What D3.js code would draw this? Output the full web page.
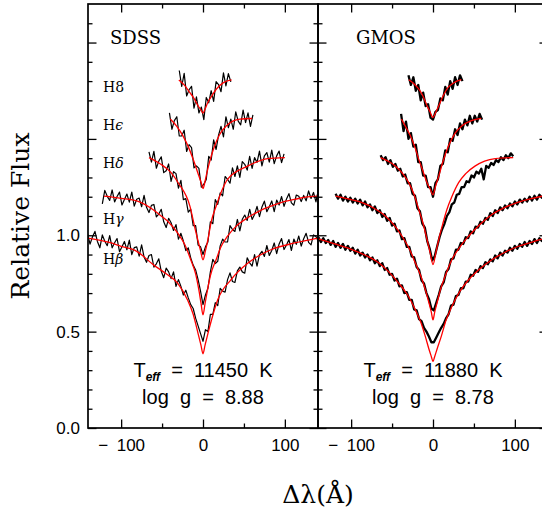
<!DOCTYPE html>
<html>
<head>
<meta charset="utf-8">
<script src="https://cdn.jsdelivr.net/npm/d3@7"></script>
<style>
  body { margin: 0; background: #fff; }
  svg { display: block; }
</style>
</head>
<body>
<svg></svg>
<script>
// panels, labels, fit parameters
const panels = ['SDSS', 'GMOS']
const teffValues = ['11450', '11880']
const loggValues = ['8.88', '8.78']
const lineNames = [['H', '8'], ['H', 'ϵ'], ['H', 'δ'], ['H', 'γ'], ['H', 'β']]
const xTicks = [-100, 0, 100]
const xMinorTicks = [-50, 50]
const yTickLabels = [0, 0.5, 1.0]
const yMajorTicks = [0, 0.5, 1.0, 1.5, 2.0]

// observed spectra, flux on a 3 A grid starting at obsStart (order H8, He, Hd, Hg, Hb)
const obsStep = 3
const sdssObsStart = [-29, -41, -66, -123, -141]
const gmosObsStart = [-30, -39, -64, -119, -140]

const sdssObsH8 = [1.855, 1.773, 1.84, 1.723, 1.755, 1.773, 1.66, 1.718, 1.635, 1.665, 1.60, 1.715, 1.687, 1.75, 1.695, 1.797, 1.782, 1.745, 1.843, 1.775, 1.839, 1.796]
const sdssObsHe = [1.635, 1.55, 1.595, 1.615, 1.515, 1.515, 1.545, 1.435, 1.47, 1.455, 1.35, 1.36, 1.347, 1.25,
  1.265, 1.29, 1.41, 1.39, 1.495, 1.445, 1.52, 1.565, 1.51, 1.615, 1.558, 1.603, 1.55, 1.64, 1.592, 1.573, 1.65, 1.585, 1.635, 1.565, 1.625]
const sdssObsHd = [1.433, 1.38, 1.435, 1.348, 1.385, 1.407, 1.325, 1.335, 1.37, 1.28, 1.33, 1.32, 1.245, 1.285, 1.185, 1.19, 1.12, 1.135, 1.05, 1.05, 0.95, 0.94, 0.90,
  0.94, 0.965, 1.07, 1.06, 1.185, 1.16, 1.22, 1.205, 1.305, 1.29, 1.27, 1.35, 1.305, 1.36, 1.30, 1.382, 1.368, 1.338, 1.41, 1.347, 1.403, 1.378, 1.437, 1.36, 1.412, 1.429, 1.38, 1.442, 1.372, 1.412, 1.437, 1.377, 1.422]
const sdssObsHg = [1.163, 1.233, 1.202, 1.181, 1.235, 1.173, 1.201, 1.224, 1.157, 1.186, 1.214, 1.172, 1.224, 1.151, 1.187, 1.193, 1.148, 1.207, 1.145, 1.118, 1.155, 1.16, 1.095, 1.11, 1.135, 1.07, 1.04, 1.088, 1.065, 1.025, 1.055, 0.98, 1.01, 0.97, 0.92, 0.935, 0.883, 0.845, 0.82, 0.77, 0.71, 0.64,
  0.69, 0.725, 0.81, 0.875, 0.853, 0.865, 0.945, 0.98, 0.965, 0.965, 1.05, 1.03, 1.02, 1.082, 1.023, 1.083, 1.105, 1.077, 1.135, 1.082, 1.108, 1.15, 1.097, 1.147, 1.177, 1.122, 1.148, 1.178, 1.123, 1.183, 1.157, 1.201, 1.15, 1.188, 1.216, 1.168, 1.156, 1.209, 1.202, 1.175, 1.207, 1.179, 1.23, 1.191, 1.222, 1.173, 1.238]
const sdssObsHb = [1.006, 0.954, 0.992, 1.02, 0.968, 0.935, 1.002, 0.969, 0.946, 0.998, 0.935, 0.961, 0.983, 0.915, 0.941, 0.968, 0.925, 0.975, 0.90, 0.936, 0.94, 0.892, 0.95, 0.887, 0.86, 0.895, 0.90, 0.835, 0.852, 0.878, 0.813, 0.78, 0.83, 0.81, 0.775, 0.81, 0.735, 0.77, 0.735, 0.69, 0.715, 0.675, 0.64, 0.62, 0.57, 0.53, 0.49, 0.45,
  0.51, 0.50, 0.59, 0.59, 0.65, 0.635, 0.725, 0.71, 0.705, 0.77, 0.805, 0.76, 0.755, 0.815, 0.835, 0.81, 0.803, 0.883, 0.857, 0.84, 0.90, 0.84, 0.90, 0.917, 0.89, 0.947, 0.895, 0.921, 0.96, 0.905, 0.955, 0.983, 0.926, 0.95, 0.978, 0.921, 0.98, 0.953, 0.996, 0.944, 0.982, 1.01, 0.963, 0.95, 1.002, 0.994, 0.966]

const gmosObsH8 = [1.83, 1.78, 1.82, 1.75, 1.78, 1.70, 1.74, 1.67, 1.68, 1.61, 1.60, 1.64, 1.65, 1.71, 1.70, 1.77, 1.73, 1.80, 1.76, 1.82, 1.78, 1.83, 1.80]
const gmosObsHe = [1.63, 1.54, 1.59, 1.50, 1.53, 1.46, 1.47, 1.38, 1.38, 1.31, 1.31, 1.25, 1.25, 1.20, 1.27, 1.29, 1.36, 1.37, 1.44, 1.43, 1.50, 1.49, 1.55, 1.52, 1.58, 1.55, 1.60, 1.57, 1.62, 1.58, 1.62, 1.59, 1.63, 1.60]
const gmosObsHd = [1.415, 1.39, 1.405, 1.37, 1.39, 1.355, 1.37, 1.335, 1.345, 1.305, 1.315, 1.27, 1.27, 1.215, 1.205, 1.14, 1.125, 1.06, 1.04, 0.97, 0.93, 0.87,
  0.89, 0.94, 0.99, 1.03, 1.06, 1.10, 1.12, 1.16, 1.17, 1.21, 1.215, 1.25, 1.25, 1.28, 1.275, 1.31, 1.30, 1.33, 1.32, 1.345, 1.29, 1.36, 1.35, 1.375, 1.365, 1.39, 1.38, 1.405, 1.39, 1.415, 1.40, 1.425, 1.41]
const gmosObsHg = [1.215, 1.19, 1.21, 1.18, 1.20, 1.175, 1.195, 1.17, 1.19, 1.165, 1.185, 1.155, 1.175, 1.145, 1.16, 1.13, 1.15, 1.115, 1.13, 1.095, 1.11, 1.075, 1.09, 1.05, 1.06, 1.02, 1.025, 0.98, 0.985, 0.94, 0.94, 0.89, 0.885, 0.835, 0.82, 0.765, 0.75, 0.70, 0.67, 0.62,
  0.61, 0.65, 0.69, 0.735, 0.755, 0.81, 0.825, 0.875, 0.88, 0.925, 0.925, 0.96, 0.955, 0.99, 0.985, 1.02, 1.01, 1.045, 1.04, 1.07, 1.06, 1.09, 1.08, 1.115, 1.10, 1.13, 1.115, 1.145, 1.13, 1.155, 1.14, 1.165, 1.15, 1.175, 1.16, 1.185, 1.17, 1.19, 1.175, 1.20, 1.18, 1.205, 1.185, 1.21, 1.195, 1.215, 1.20]
const gmosObsHb = [0.99, 0.965, 0.985, 0.96, 0.975, 0.95, 0.97, 0.94, 0.96, 0.935, 0.955, 0.925, 0.945, 0.92, 0.935, 0.905, 0.925, 0.895, 0.91, 0.885, 0.90, 0.87, 0.885, 0.855, 0.87, 0.84, 0.855, 0.82, 0.83, 0.795, 0.80, 0.765, 0.775, 0.735, 0.74, 0.70, 0.705, 0.665, 0.665, 0.615, 0.61, 0.565, 0.555, 0.52, 0.50, 0.475, 0.445,
  0.445, 0.47, 0.495, 0.52, 0.54, 0.57, 0.59, 0.635, 0.64, 0.685, 0.69, 0.725, 0.725, 0.76, 0.76, 0.795, 0.79, 0.82, 0.81, 0.84, 0.83, 0.86, 0.85, 0.875, 0.865, 0.895, 0.88, 0.91, 0.895, 0.92, 0.91, 0.935, 0.92, 0.945, 0.93, 0.955, 0.94, 0.965, 0.945, 0.97, 0.955, 0.98, 0.96, 0.985, 0.97, 0.99, 0.975]

// model fits, [delta lambda, flux]
const sdssModelH8 = [[-29.5, 1.806], [-23, 1.78], [-16.3, 1.742], [-11, 1.71], [-6, 1.672], [-2.5, 1.65], [0, 1.634], [2.5, 1.655], [6, 1.69], [11, 1.725], [16.4, 1.759], [25, 1.792], [35, 1.806]]
const sdssModelHe = [[-40, 1.603], [-32, 1.565], [-24.5, 1.516], [-18, 1.46], [-12, 1.394], [-5, 1.307], [-2, 1.27], [0, 1.242], [2, 1.27], [4.5, 1.32], [10, 1.41], [14.3, 1.464], [20, 1.52], [28.6, 1.568], [45, 1.603], [60, 1.606]]
const sdssModelHd = [[-66, 1.403], [-52, 1.37], [-39, 1.325], [-30, 1.27], [-16, 1.151], [-10, 1.04], [-6.5, 0.978], [-3, 0.92], [0, 0.873], [3, 0.92], [6, 0.978], [10, 1.07], [16, 1.151], [30, 1.29], [55, 1.36], [79, 1.398], [100, 1.403]]
const sdssModelHg = [[-121, 1.203], [-100, 1.192], [-80, 1.177], [-60, 1.13], [-51, 1.10], [-42, 1.068], [-31, 1.012], [-22, 0.95], [-15, 0.873], [-9, 0.80], [-5, 0.715], [-2.5, 0.65], [0, 0.587], [2.5, 0.645], [5, 0.705], [9, 0.79], [16, 0.873], [22, 0.94], [30, 0.995], [40, 1.045], [55, 1.092], [70, 1.128], [83, 1.151], [100, 1.176], [112, 1.186], [125, 1.198], [140, 1.203]]
const sdssModelHb = [[-141, 0.986], [-112, 0.96], [-100, 0.943], [-83, 0.922], [-60, 0.845], [-45, 0.80], [-31, 0.752], [-19, 0.665], [-12, 0.59], [-6, 0.49], [-2.5, 0.43], [0, 0.385], [2.5, 0.43], [6, 0.49], [12, 0.585], [18, 0.665], [34, 0.769], [55, 0.856], [83, 0.925], [112, 0.96], [141, 0.986]]

const gmosModelH8 = [[-29.6, 1.807], [-23, 1.785], [-17.4, 1.759], [-12, 1.72], [-7.3, 1.672], [-3.5, 1.64], [0, 1.611], [3.5, 1.64], [7, 1.672], [12, 1.72], [17, 1.759], [25, 1.79], [34.6, 1.807]]
const gmosModelHe = [[-38.6, 1.603], [-33, 1.56], [-27.6, 1.516], [-22, 1.455], [-17.4, 1.394], [-12, 1.33], [-7.3, 1.273], [-3.5, 1.24], [0, 1.21], [3.5, 1.26], [7, 1.307], [12, 1.38], [19, 1.464], [27, 1.53], [35.4, 1.568], [47, 1.595], [59, 1.606]]
const gmosModelHd = [[-64, 1.403], [-55, 1.385], [-46, 1.36], [-37, 1.32], [-29.6, 1.273], [-23, 1.21], [-17.4, 1.134], [-12, 1.06], [-7.3, 0.978], [-3.5, 0.91], [0, 0.848], [3.5, 0.91], [7, 0.978], [12, 1.06], [17, 1.134], [23, 1.2], [31.3, 1.273], [40, 1.32], [51.7, 1.36], [63, 1.385], [76, 1.398], [98, 1.403]]
const gmosModelHg = [[-119, 1.203], [-100, 1.185], [-86.6, 1.169], [-72, 1.14], [-58, 1.099], [-47, 1.05], [-37.8, 0.995], [-29, 0.93], [-21.5, 0.856], [-15, 0.79], [-9.3, 0.717], [-5, 0.65], [-2, 0.60], [0, 0.561], [2, 0.60], [5, 0.65], [9, 0.717], [15, 0.79], [23, 0.873], [33, 0.94], [43.5, 0.995], [57, 1.055], [72, 1.108], [88, 1.145], [104.5, 1.172], [120, 1.19], [134, 1.203], [150, 1.21]]
const gmosModelHb = [[-140, 0.981], [-120, 0.955], [-99, 0.926], [-82, 0.895], [-66, 0.856], [-54, 0.81], [-42, 0.752], [-31, 0.69], [-21.5, 0.613], [-15, 0.55], [-9.3, 0.474], [-5, 0.41], [-2, 0.37], [0, 0.344], [2, 0.37], [5, 0.41], [10, 0.474], [16, 0.56], [23, 0.63], [33, 0.71], [43.5, 0.769], [57, 0.825], [72, 0.873], [88, 0.912], [104.5, 0.943], [120, 0.963], [134, 0.981], [150, 0.99]]

const observed = [
  [sdssObsH8, sdssObsHe, sdssObsHd, sdssObsHg, sdssObsHb],
  [gmosObsH8, gmosObsHe, gmosObsHd, gmosObsHg, gmosObsHb]
]
const obsStart = [sdssObsStart, gmosObsStart]
const models = [
  [sdssModelH8, sdssModelHe, sdssModelHd, sdssModelHg, sdssModelHb],
  [gmosModelH8, gmosModelHe, gmosModelHd, gmosModelHg, gmosModelHb]
]

const svg = d3.select('svg')
const [svgWidth, svgHeight] = [542, 511]
svg.attr('width', svgWidth).attr('height', svgHeight)

const frame = {top: 4, bottom: 428, left: 88, panelWidth: 230}
const numFont = 'Liberation Sans'
const serifFont = 'DejaVu Serif'
const translate = (x, y) => `translate(${x}, ${y})`

const y = d3.scaleLinear().domain([0, 2.2]).range([frame.bottom, frame.top])
const yMinorTicks = d3.range(1, 22).filter(i => i % 5 !== 0).map(i => i / 10)
const fmtX = d => d < 0 ? '\u2212\u2002' + Math.abs(d) : String(d)

panels.forEach((name, p) => {
  const x0 = frame.left + p * frame.panelWidth
  const x1 = x0 + frame.panelWidth
  const x = d3.scaleLinear().domain([-140.5, 140.5]).range([x0, x1])

  const clipId = 'clip' + p
  svg.append('clipPath').attr('id', clipId)
    .append('rect')
    .attr('x', x0).attr('y', frame.top)
    .attr('width', frame.panelWidth).attr('height', frame.bottom - frame.top)

  const plot = svg.append('g').attr('clip-path', `url(#${clipId})`)

  const line = d3.line().x(d => x(d[0])).y(d => y(d[1]))
  const smooth = d3.line().x(d => x(d[0])).y(d => y(d[1])).curve(d3.curveMonotoneX)

  observed[p].forEach((vals, i) => {
    const pts = vals.map((v, k) => [obsStart[p][i] + k * obsStep, v])
    plot.append('path').datum(pts)
      .attr('d', line)
      .attr('fill', 'none')
      .attr('stroke', '#000')
      .attr('stroke-width', p === 0 ? 1.2 : 2.3)
      .attr('stroke-linejoin', 'round')
  })

  models[p].forEach(m => {
    plot.append('path').datum(m)
      .attr('d', smooth)
      .attr('fill', 'none')
      .attr('stroke', '#f00')
      .attr('stroke-width', 1.3)
  })

  // axes, ticks inward
  const axes = svg.append('g')
  const styleAxis = sel => {
    sel.select('.domain').remove()
    sel.selectAll('line').attr('stroke', '#000').attr('stroke-width', 1.3)
    sel.selectAll('text').attr('font-family', numFont).attr('font-size', 17).attr('fill', '#000')
  }

  axes.append('g').attr('transform', translate(0, frame.bottom))
    .call(d3.axisBottom(x).tickValues(xTicks).tickSize(-8.5).tickPadding(11).tickFormat(fmtX))
    .call(styleAxis)
  axes.append('g').attr('transform', translate(0, frame.bottom))
    .call(d3.axisBottom(x).tickValues(xMinorTicks).tickSize(-4.5).tickFormat(''))
    .call(styleAxis)
  axes.append('g').attr('transform', translate(0, frame.top))
    .call(d3.axisTop(x).tickValues(xTicks).tickSize(-8.5).tickFormat(''))
    .call(styleAxis)
  axes.append('g').attr('transform', translate(0, frame.top))
    .call(d3.axisTop(x).tickValues(xMinorTicks).tickSize(-4.5).tickFormat(''))
    .call(styleAxis)

  axes.append('g').attr('transform', translate(x0, 0))
    .call(d3.axisLeft(y).tickValues(yMajorTicks).tickSize(-8.5).tickPadding(8)
      .tickFormat(d => p === 0 && yTickLabels.includes(d) ? d3.format('.1f')(d) : ''))
    .call(styleAxis)
  axes.append('g').attr('transform', translate(x0, 0))
    .call(d3.axisLeft(y).tickValues(yMinorTicks).tickSize(-4.5).tickFormat(''))
    .call(styleAxis)
  axes.append('g').attr('transform', translate(x1, 0))
    .call(d3.axisRight(y).tickValues(yMajorTicks).tickSize(-8.5).tickFormat(''))
    .call(styleAxis)
  axes.append('g').attr('transform', translate(x1, 0))
    .call(d3.axisRight(y).tickValues(yMinorTicks).tickSize(-4.5).tickFormat(''))
    .call(styleAxis)

  axes.append('rect')
    .attr('x', x0).attr('y', frame.top)
    .attr('width', frame.panelWidth).attr('height', frame.bottom - frame.top)
    .attr('fill', 'none').attr('stroke', '#000').attr('stroke-width', 1.7)

  // panel title
  svg.append('text')
    .attr('x', x0 + (p === 0 ? 22 : 38)).attr('y', 43.5)
    .attr('font-family', serifFont).attr('font-size', 18)
    .text(name)

  // fit results
  const teff = svg.append('text')
    .attr('x', x(0)).attr('y', 376.7)
    .attr('text-anchor', 'middle')
    .attr('font-family', numFont).attr('font-size', 20)
    .attr('xml:space', 'preserve').style('white-space', 'pre')
  teff.append('tspan').text('T')
  teff.append('tspan').attr('dy', 4).attr('font-size', 12)
    .attr('font-weight', 'bold').attr('font-style', 'italic').text('eff')
  teff.append('tspan').attr('dy', -4).text(`  =  ${teffValues[p]}  K`)

  svg.append('text')
    .attr('x', x(0)).attr('y', 404)
    .attr('text-anchor', 'middle')
    .attr('font-family', numFont).attr('font-size', 20)
    .attr('xml:space', 'preserve').style('white-space', 'pre')
    .text(`log  g  =  ${loggValues[p]}`)
})

// line labels in the SDSS panel
const labelBaselines = [91.5, 130, 168, 224, 264]
lineNames.forEach((n, i) => {
  const t = svg.append('text')
    .attr('x', 103).attr('y', labelBaselines[i])
    .attr('font-family', serifFont).attr('font-size', 14)
  t.append('tspan').text(n[0])
  t.append('tspan').attr('font-style', n[1] === '8' ? 'normal' : 'italic').text(n[1])
})

// axis titles
svg.append('text')
  .attr('transform', translate(28.5, 216) + ' rotate(-90)')
  .attr('text-anchor', 'middle')
  .attr('font-family', serifFont).attr('font-size', 25)
  .text('Relative Flux')

svg.append('text')
  .attr('x', 318).attr('y', 503)
  .attr('text-anchor', 'middle')
  .attr('font-family', serifFont).attr('font-size', 25)
  .text('Δλ(Å)')
</script>
</body>
</html>
